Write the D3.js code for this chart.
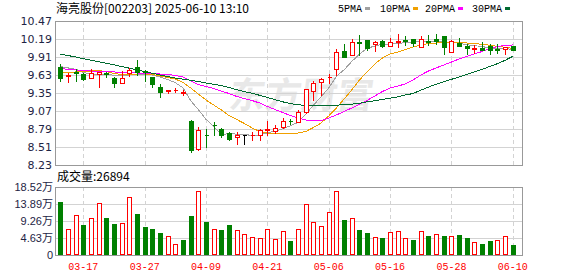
<!DOCTYPE html>
<html>
<head>
<meta charset="UTF-8">
<title>海亮股份</title>
<style>
html, body {
    margin: 0;
    padding: 0;
    background-color: #fff;
}
.ma {
    fill: none;
    stroke-width: 1;
    shape-rendering: crispEdges;
}
.grid {
    stroke: #d3d3d3;
    shape-rendering: crispEdges;
}
.frame {
    fill: none;
    stroke: #999;
    shape-rendering: crispEdges;
}
</style>
</head>
<body>
<div id="chart"></div>
<script src="https://cdn.jsdelivr.net/npm/d3@7/dist/d3.min.js"></script>
<script>
const dates = ['03-12','03-13','03-14','03-17','03-18','03-19','03-20','03-21','03-24','03-25','03-26','03-27','03-28','03-31',
    '04-01','04-02','04-03','04-07','04-08','04-09','04-10','04-11','04-14','04-15','04-16','04-17','04-18','04-21','04-22','04-23',
    '04-24','04-25','04-28','04-29','04-30','05-06','05-07','05-08','05-09','05-12','05-13','05-14','05-15','05-16','05-19','05-20',
    '05-21','05-22','05-23','05-26','05-27','05-28','05-29','05-30','06-03','06-04','06-05','06-06','06-09','06-10'];

const open  = [9.76,9.62,9.675,9.64,9.58,9.646,9.66,9.583,9.50,9.661,9.747,9.69,9.604,9.439,9.385,9.39,9.35,8.914,8.479,8.70,
    8.855,8.79,8.728,8.66,8.70,8.69,8.697,8.77,8.759,8.826,8.92,8.904,9.05,9.381,9.516,9.60,9.731,10.003,9.941,10.14,
    10.174,10.112,10.159,10.081,10.136,10.175,10.185,10.07,10.165,10.185,10.237,9.983,10.123,10.086,10.03,10.055,10.081,10.035,10.03,10.081];
const high  = [9.82,9.672,9.735,9.67,9.734,9.70,9.69,9.62,9.707,9.759,9.874,9.73,9.615,9.501,9.41,9.45,9.41,8.938,8.837,8.80,
    8.915,8.82,8.76,8.76,8.70,8.76,8.80,8.93,8.863,8.977,8.96,9.094,9.423,9.552,9.604,9.656,10.05,10.128,10.206,10.27,
    10.18,10.174,10.19,10.22,10.29,10.25,10.19,10.252,10.27,10.28,10.24,10.19,10.226,10.123,10.108,10.159,10.123,10.123,10.08,10.10];
const low   = [9.53,9.517,9.54,9.545,9.58,9.448,9.605,9.451,9.50,9.614,9.63,9.53,9.448,9.293,9.355,9.36,9.32,8.432,8.463,8.515,
    8.70,8.67,8.62,8.552,8.55,8.62,8.62,8.697,8.723,8.806,8.863,8.892,9.034,9.24,9.319,9.50,9.63,9.91,9.941,9.94,
    10.02,10.01,10.065,10.08,10.065,10.09,10.08,10.07,10.10,10.12,9.952,9.983,10.08,9.952,9.968,10.02,9.952,9.968,9.952,10.02];
const close = [9.59,9.635,9.665,9.568,9.657,9.672,9.65,9.513,9.588,9.708,9.681,9.68,9.485,9.366,9.395,9.40,9.36,8.463,8.775,8.69,
    8.85,8.69,8.635,8.697,8.70,8.70,8.775,8.785,8.806,8.914,8.91,9.055,9.408,9.498,9.563,9.605,9.988,9.915,10.151,10.128,
    10.05,10.148,10.081,10.143,10.159,10.16,10.123,10.185,10.15,10.155,10.07,10.159,10.086,10.045,10.055,10.02,10.015,10.025,10.07,10.02];
const prevClose = 9.65;

// volume in 万
const volume = [14.4,7.05,10.8,8.1,10.2,14.2,10.1,8.5,8.7,15.7,11.2,7.6,7.1,6.0,5.15,3.0,4.1,10.6,17.35,9.0,
    7.0,6.8,8.1,6.8,5.7,4.8,4.5,7.2,4.25,6.5,3.8,7.0,13.8,8.9,7.9,11.65,17.35,9.5,10.2,6.8,
    6.05,4.8,4.7,6.15,6.5,4.5,4.05,6.5,5.15,5.7,5.15,5.15,5.4,4.5,3.45,3.0,3.8,4.05,5.15,2.7];
const lastVolume = 26894;

const ma5  = [9.76,9.74,9.72,9.67,9.645,9.64,9.642,9.625,9.62,9.63,9.635,9.64,9.63,9.60,9.56,9.51,9.43,9.23,9.09,8.94,
    8.83,8.70,8.72,8.71,8.71,8.685,8.70,8.73,8.755,8.795,8.84,8.895,9.02,9.16,9.29,9.43,9.61,9.71,9.84,9.955,
    10.045,10.08,10.11,10.11,10.115,10.14,10.135,10.155,10.155,10.155,10.14,10.145,10.125,10.10,10.085,10.075,10.045,10.035,10.04,10.03];
const ma10 = [9.666,9.669,9.677,9.684,9.692,9.700,9.684,9.653,9.638,9.638,9.646,9.646,9.638,9.614,9.591,9.568,9.513,9.428,9.334,9.241,
    9.163,9.086,9.000,8.938,8.876,8.806,8.751,8.728,8.720,8.720,8.720,8.728,8.751,8.813,8.883,8.992,9.117,9.257,9.397,9.552,
    9.677,9.801,9.894,9.957,9.988,10.027,10.066,10.097,10.120,10.128,10.132,10.132,10.132,10.128,10.117,10.108,10.092,10.076,10.061,10.045];
const ma20 = [9.734,9.716,9.708,9.697,9.692,9.692,9.688,9.677,9.672,9.669,9.661,9.658,9.653,9.646,9.638,9.622,9.599,9.537,9.482,9.451,
    9.420,9.381,9.342,9.296,9.264,9.233,9.194,9.140,9.093,9.047,9.000,8.961,8.930,8.922,8.922,8.961,9.008,9.062,9.117,9.171,
    9.233,9.303,9.373,9.428,9.459,9.490,9.552,9.630,9.692,9.739,9.786,9.832,9.879,9.918,9.957,9.996,10.042,10.073,10.089,10.097];
const ma30 = [9.957,9.933,9.910,9.885,9.860,9.835,9.812,9.789,9.762,9.736,9.708,9.683,9.658,9.630,9.605,9.583,9.565,9.548,9.529,9.506,
    9.484,9.465,9.436,9.401,9.373,9.345,9.314,9.280,9.246,9.213,9.184,9.168,9.156,9.148,9.148,9.152,9.160,9.168,9.176,9.190,
    9.213,9.230,9.250,9.268,9.291,9.319,9.342,9.394,9.442,9.487,9.527,9.563,9.599,9.638,9.677,9.719,9.762,9.806,9.859,9.921];

const priceTicks = [10.47,10.19,9.91,9.63,9.35,9.07,8.79,8.51,8.23];
const volTicks = [0,4.63,9.26,13.89,18.52];
const dateTicks = ['03-17','03-27','04-09','04-21','05-06','05-16','05-28','06-10'];
const maNames = ['5PMA','10PMA','20PMA','30PMA'];
const maColors = ['#a0a0a0','#f0a000','#ff00ff','#006a30'];

const width = 578, height = 276;
const left = 55, right = 522;
const red = '#ff0000', green = '#008000';

const svg = d3.select('#chart').append('svg')
    .attr('width', width)
    .attr('height', height)
    .style('display', 'block');

let x = d3.scalePoint().domain(dates).range([60.3, 512.8]);
let y = d3.scaleLinear().domain([8.23, 10.47]).range([165, 21]);
let yv = d3.scaleLinear().domain([0, 18.52]).range([255, 187]);
const px = v => Math.round(v) + 0.5;

// watermark
svg.append('text')
    .attr('x', 243).attr('y', 108)
    .attr('transform', 'skewX(-8)')
    .attr('font-family', 'Noto Sans CJK SC')
    .attr('font-weight', 'bold')
    .attr('font-size', 36)
    .attr('fill', '#e8e8e8')
    .text('东方财富');

// grid
svg.selectAll('.hgrid').data(priceTicks.slice(1, -1)).enter().append('line')
    .attr('class', 'grid')
    .attr('x1', left).attr('x2', right)
    .attr('y1', d => px(y(d))).attr('y2', d => px(y(d)));
svg.selectAll('.vgrid').data(volTicks.slice(1, -1)).enter().append('line')
    .attr('class', 'grid')
    .attr('x1', left).attr('x2', right)
    .attr('y1', d => px(yv(d))).attr('y2', d => px(yv(d)));
[[y(10.47), y(8.23)], [yv(18.52), yv(0)]].forEach(r => {
    svg.selectAll(null).data(dateTicks).enter().append('line')
        .attr('class', 'grid')
        .attr('stroke-dasharray', '4,3')
        .attr('x1', d => px(x(d))).attr('x2', d => px(x(d)))
        .attr('y1', r[0]).attr('y2', r[1]);
});

// frames
svg.append('rect').attr('class', 'frame')
    .attr('x', left + 0.5).attr('y', px(y(10.47)))
    .attr('width', right - left).attr('height', Math.round(y(8.23)) - Math.round(y(10.47)));
svg.append('rect').attr('class', 'frame')
    .attr('x', left + 0.5).attr('y', px(yv(18.52)))
    .attr('width', right - left).attr('height', Math.round(yv(0)) - Math.round(yv(18.52)));

// price labels
svg.selectAll('.plabel').data(priceTicks).enter().append('text')
    .attr('x', 52).attr('y', d => y(d) + 4)
    .attr('text-anchor', 'end')
    .attr('font-family', 'DejaVu Sans')
    .attr('font-size', 11)
    .attr('fill', '#1e2444')
    .text(d => d.toFixed(2));

svg.selectAll('.vlabel').data(volTicks).enter().append('text')
    .attr('x', 53).attr('y', d => yv(d) + 4)
    .attr('text-anchor', 'end')
    .attr('font-family', 'Liberation Sans, Noto Sans CJK SC')
    .attr('font-size', 11)
    .attr('fill', '#1e2444')
    .text(d => d === 0 ? '0' : d.toFixed(2) + '万');

// date labels
svg.selectAll('.dlabel').data(dateTicks).enter().append('text')
    .attr('x', d => x(d)).attr('y', 270)
    .attr('text-anchor', 'middle')
    .attr('font-family', 'Liberation Mono')
    .attr('font-size', 10)
    .attr('fill', red)
    .text(d => d);

// title and legend
svg.append('text')
    .attr('x', 56).attr('y', 13)
    .attr('font-family', 'Noto Sans CJK SC')
    .attr('font-size', 12)
    .attr('fill', '#000')
    .text('海亮股份[002203] 2025-06-10 13:10');

const legendX = [338, 380, 425, 472];
maNames.forEach((n, i) => {
    let t = svg.append('text')
        .attr('x', legendX[i]).attr('y', 12)
        .attr('font-family', 'Liberation Mono')
        .attr('font-size', 10)
        .attr('fill', '#000')
        .text(n);
    let w = t.node().getComputedTextLength();
    svg.append('rect')
        .attr('x', legendX[i] + w + 3).attr('y', 7)
        .attr('width', 5).attr('height', 3)
        .attr('fill', maColors[i]);
});

svg.append('text')
    .attr('x', 57).attr('y', 181)
    .attr('font-family', 'Noto Sans CJK SC')
    .attr('font-size', 12)
    .attr('fill', '#000')
    .text('成交量:' + lastVolume);

// volume bars
svg.selectAll('.vol').data(volume).enter().append('rect')
    .attr('x', (d, i) => Math.round(x(dates[i])) - 2 + 0.5)
    .attr('y', d => px(yv(d)))
    .attr('width', 4)
    .attr('height', d => Math.round(yv(0)) - Math.round(yv(d)) - 1)
    .attr('fill', (d, i) => close[i] >= (i ? close[i - 1] : prevClose) ? '#fff' : green)
    .attr('stroke', (d, i) => close[i] >= (i ? close[i - 1] : prevClose) ? red : green)
    .attr('shape-rendering', 'crispEdges');

// moving averages
let line = d3.line()
    .x((d, i) => x(dates[i]))
    .y(d => y(d));
[ma5, ma10, ma20, ma30].forEach((m, i) => {
    svg.append('path')
        .attr('class', 'ma')
        .attr('stroke', maColors[i])
        .attr('d', line(m));
});

// candles
const candles = svg.append('g').attr('shape-rendering', 'crispEdges');
dates.forEach((d, i) => {
    let cx = Math.round(x(d));
    let col = close[i] > open[i] ? red : (close[i] < open[i] ? green : '#000');
    candles.append('line')
        .attr('x1', cx + 0.5).attr('x2', cx + 0.5)
        .attr('y1', px(y(high[i]))).attr('y2', px(y(low[i])))
        .attr('stroke', col);
    let t = px(y(Math.max(open[i], close[i])));
    let b = px(y(Math.min(open[i], close[i])));
    candles.append('path')
        .attr('d', `M${cx - 1.5},${t}H${cx + 2.5}V${b}H${cx - 1.5}Z`)
        .attr('fill', close[i] > open[i] ? '#fff' : col)
        .attr('stroke', col);
});
</script>
</body>
</html>
